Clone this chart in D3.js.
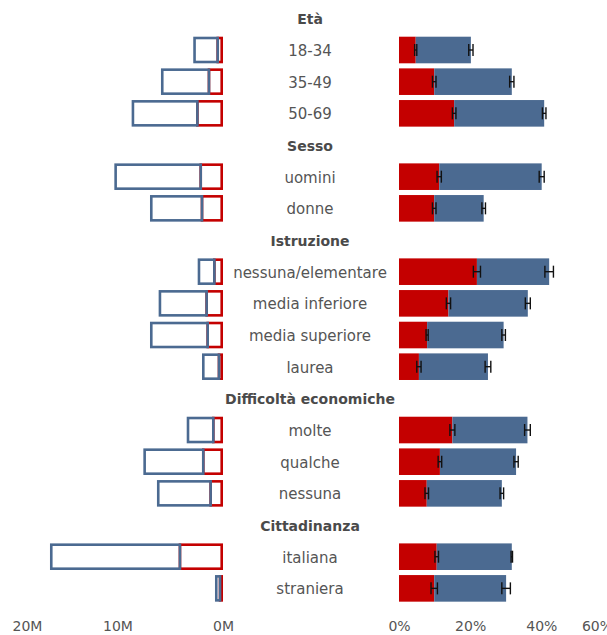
<!DOCTYPE html>
<html>
<head>
<meta charset="utf-8">
<script src="https://cdn.jsdelivr.net/npm/d3@7"></script>
<style>
  html, body { margin: 0; padding: 0; background: #fff; }
  svg { display: block; }
  text { font-family: "DejaVu Sans", Verdana, sans-serif; }
</style>
</head>
<body>
<script>
// Group headings and the categories under each
const groups = ["Età", "Sesso", "Istruzione", "Difficoltà economiche", "Cittadinanza"];
const categories = ["18-34", "35-49", "50-69", "uomini", "donne",
  "nessuna/elementare", "media inferiore", "media superiore", "laurea",
  "molte", "qualche", "nessuna", "italiana", "straniera"];
const categoryGroup = [0, 0, 0, 1, 1, 2, 2, 2, 2, 3, 3, 3, 4, 4];

// Population (millions): red part and total
const popRed   = [0.50, 1.33, 2.43, 2.11, 1.99, 0.82, 1.55, 1.45, 0.38, 0.92, 1.87, 1.17, 4.08, 0.28];
const popTotal = [2.82, 5.88, 8.66, 10.30, 6.92, 2.40, 6.10, 6.92, 1.99, 3.44, 7.55, 6.26, 16.40, 0.76];

// Shares (%): red share and cumulative total, with half-width of the intervals
const pctRed   = [4.7, 9.9, 15.5, 11.3, 9.9, 21.9, 13.9, 7.9, 5.6, 15.0, 11.5, 7.8, 10.6, 9.9];
const pctTotal = [20.2, 31.7, 40.8, 40.1, 23.8, 42.2, 36.2, 29.4, 25.0, 36.1, 32.9, 28.9, 31.7, 30.1];
const ciRed    = [0.3, 0.5, 0.5, 0.6, 0.5, 1.0, 0.6, 0.3, 0.6, 0.7, 0.5, 0.5, 0.5, 0.9];
const ciTotal  = [0.6, 0.6, 0.5, 0.7, 0.5, 1.2, 0.7, 0.5, 0.8, 0.8, 0.6, 0.5, 0.2, 1.2];

const leftTicks = [20, 10, 0];
const rightTicks = [0, 20, 40, 60];

const W = 607, H = 635;
const RED = "#c40000", BLUE = "#4b6a91", TEXT = "#555";

// Row list: heading rows followed by their categories
const rows = [];
groups.forEach((g, gi) => {
  rows.push({ key: "h" + gi, label: g, header: true });
  categories.forEach((c, i) => {
    if (categoryGroup[i] === gi) rows.push({ key: "c" + i, label: c, header: false, i });
  });
});

const svg = d3.select("body").append("svg").attr("width", W).attr("height", H);

const y = d3.scaleBand().domain(rows.map(r => r.key)).range([2.5, 604.2])
  .paddingInner(0.16).paddingOuter(0.08);
const bw = y.bandwidth();

const xL = d3.scaleLinear().domain([0, 20]).range([223, 12]);
const xR = d3.scaleLinear().domain([0, 60]).range([399, 612.5]);

const data = rows.filter(r => !r.header);
const sw = 2.6;

// Left panel: outlined population bars (blue drawn last so it owns the divider)
const gL = svg.append("g");
gL.selectAll("rect.red").data(data).join("rect").attr("class", "red")
  .attr("x", d => xL(popRed[d.i]))
  .attr("y", d => y(d.key) + sw / 2)
  .attr("width", d => Math.max(0, xL(0) - xL(popRed[d.i]) - sw / 2))
  .attr("height", bw - sw)
  .attr("fill", "none").attr("stroke", RED).attr("stroke-width", sw);
gL.selectAll("rect.blue").data(data).join("rect").attr("class", "blue")
  .attr("x", d => xL(popTotal[d.i]) + sw / 2)
  .attr("y", d => y(d.key) + sw / 2)
  .attr("width", d => Math.max(0, xL(popRed[d.i]) - xL(popTotal[d.i]) - sw / 2))
  .attr("height", bw - sw)
  .attr("fill", "none").attr("stroke", BLUE).attr("stroke-width", sw);

// Right panel: stacked share bars
const gR = svg.append("g");
gR.selectAll("rect.red").data(data).join("rect").attr("class", "red")
  .attr("x", xR(0)).attr("y", d => y(d.key))
  .attr("width", d => xR(pctRed[d.i]) - xR(0)).attr("height", bw)
  .attr("fill", RED);
gR.selectAll("rect.blue").data(data).join("rect").attr("class", "blue")
  .attr("x", d => xR(pctRed[d.i])).attr("y", d => y(d.key))
  .attr("width", d => xR(pctTotal[d.i]) - xR(pctRed[d.i])).attr("height", bw)
  .attr("fill", BLUE);

// Interval markers
const errs = [];
data.forEach(d => {
  errs.push({ key: d.key, v: pctRed[d.i], e: ciRed[d.i] });
  errs.push({ key: d.key, v: pctTotal[d.i], e: ciTotal[d.i] });
});
const eh = 12;
const gE = gR.selectAll("g.err").data(errs).join("g").attr("class", "err")
  .attr("stroke", "#111").attr("stroke-width", 1.4).attr("fill", "none");
gE.append("line")
  .attr("x1", d => xR(d.v - d.e)).attr("x2", d => xR(d.v + d.e))
  .attr("y1", d => y(d.key) + bw / 2).attr("y2", d => y(d.key) + bw / 2);
gE.append("line")
  .attr("x1", d => xR(d.v - d.e)).attr("x2", d => xR(d.v - d.e))
  .attr("y1", d => y(d.key) + bw / 2 - eh / 2).attr("y2", d => y(d.key) + bw / 2 + eh / 2);
gE.append("line")
  .attr("x1", d => xR(d.v + d.e)).attr("x2", d => xR(d.v + d.e))
  .attr("y1", d => y(d.key) + bw / 2 - eh / 2).attr("y2", d => y(d.key) + bw / 2 + eh / 2);

// Central labels
svg.append("g").selectAll("text").data(rows).join("text")
  .attr("x", 310)
  .attr("y", d => y(d.key) + bw / 2 + 1)
  .attr("text-anchor", "middle")
  .attr("dominant-baseline", "central")
  .attr("font-size", d => d.header ? 14 : 15)
  .attr("font-weight", d => d.header ? "bold" : "normal")
  .attr("fill", d => d.header ? "#4a4a4a" : TEXT)
  .text(d => d.label);

// Bottom axes: labels only
const axisY = 619;
const axL = svg.append("g").attr("transform", `translate(0,${axisY})`)
  .call(d3.axisBottom(xL).tickValues(leftTicks).tickFormat(d => d + "M").tickSize(0).tickPadding(2));
const axR = svg.append("g").attr("transform", `translate(0,${axisY})`)
  .call(d3.axisBottom(xR).tickValues(rightTicks).tickFormat(d => d + "%").tickSize(0).tickPadding(2));
[axL, axR].forEach(ax => {
  ax.select(".domain").remove();
  ax.selectAll("text").attr("font-size", 14).attr("fill", TEXT)
    .attr("font-family", "DejaVu Sans, Verdana, sans-serif");
});
// Outer labels flush with their tick
axL.selectAll(".tick text").filter(d => d === 20).attr("text-anchor", "start");
axR.selectAll(".tick text").filter(d => d === 60).attr("text-anchor", "end");
</script>
</body>
</html>
